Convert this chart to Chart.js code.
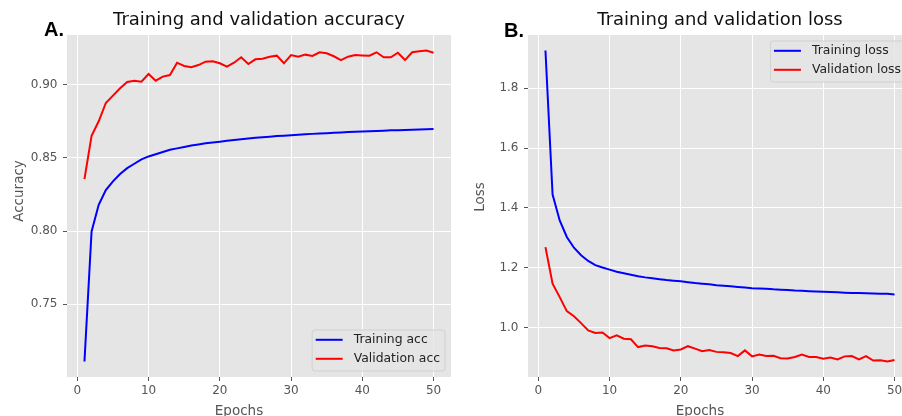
<!DOCTYPE html>
<html>
<head>
<meta charset="utf-8">
<script src="https://cdn.jsdelivr.net/npm/chart.js@4.4.0/dist/chart.umd.min.js"></script>
<style>
    html, body { margin: 0; padding: 0; background: #fff; width: 902px; height: 416px; overflow: hidden; }
    canvas { position: absolute; top: 0; }
    #accChart { left: 0; }
    #lossChart { left: 460px; }
    .tag { position: absolute; font: bold 20px 'Liberation Sans', Arial, sans-serif; line-height: 20px; color: #000; }
</style>
</head>
<body>
<canvas id="accChart" width="470" height="430"></canvas>
<canvas id="lossChart" width="470" height="430"></canvas>
<div class="tag" style="left:44px; top:19px;">A.</div>
<div class="tag" style="left:504px; top:19.5px;">B.</div>
<script>
const epochs = [1, 2, 3, 4, 5, 6, 7, 8, 9, 10, 11, 12, 13, 14, 15, 16, 17, 18, 19, 20,
    21, 22, 23, 24, 25, 26, 27, 28, 29, 30, 31, 32, 33, 34, 35, 36, 37, 38, 39, 40,
    41, 42, 43, 44, 45, 46, 47, 48, 49, 50];

const trainAcc = [0.7110, 0.7998, 0.8180, 0.8280, 0.8340, 0.8390, 0.8430, 0.8460, 0.8490, 0.8510,
    0.8525, 0.8540, 0.8555, 0.8565, 0.8575, 0.8585, 0.8592, 0.8600, 0.8605, 0.8611,
    0.8617, 0.8622, 0.8627, 0.8632, 0.8637, 0.8641, 0.8645, 0.8649, 0.8652, 0.8655,
    0.8658, 0.8661, 0.8664, 0.8667, 0.8669, 0.8672, 0.8674, 0.8676, 0.8678, 0.8680,
    0.8682, 0.8684, 0.8686, 0.8688, 0.8689, 0.8691, 0.8693, 0.8694, 0.8696, 0.8698];
const valAcc = [0.8355, 0.8650, 0.8750, 0.8875, 0.8925, 0.8975, 0.9018, 0.9027, 0.9020, 0.9073,
    0.9027, 0.9055, 0.9066, 0.9150, 0.9128, 0.9119, 0.9134, 0.9157, 0.9160, 0.9146,
    0.9123, 0.9150, 0.9187, 0.9141, 0.9173, 0.9177, 0.9191, 0.9198, 0.9146, 0.9202,
    0.9191, 0.9205, 0.9196, 0.9221, 0.9214, 0.9194, 0.9168, 0.9191, 0.9202, 0.9200,
    0.9198, 0.9221, 0.9187, 0.9187, 0.9218, 0.9168, 0.9221, 0.9228, 0.9233, 0.9218];

const trainLoss = [1.926, 1.445, 1.358, 1.303, 1.267, 1.242, 1.223, 1.209, 1.201, 1.194,
    1.187, 1.182, 1.177, 1.172, 1.168, 1.165, 1.162, 1.159, 1.157, 1.155,
    1.152, 1.149, 1.147, 1.145, 1.142, 1.140, 1.138, 1.136, 1.134, 1.132,
    1.131, 1.130, 1.128, 1.127, 1.126, 1.124, 1.123, 1.122, 1.121, 1.120,
    1.119, 1.118, 1.117, 1.116, 1.116, 1.115, 1.114, 1.113, 1.113, 1.111];
const valLoss = [1.269, 1.147, 1.102, 1.055, 1.038, 1.015, 0.991, 0.982, 0.984, 0.965,
    0.974, 0.963, 0.961, 0.935, 0.940, 0.938, 0.932, 0.931, 0.924, 0.927,
    0.938, 0.930, 0.921, 0.925, 0.919, 0.918, 0.915, 0.905, 0.924, 0.904,
    0.910, 0.905, 0.906, 0.898, 0.897, 0.902, 0.910, 0.902, 0.902, 0.896,
    0.900, 0.894, 0.904, 0.905, 0.894, 0.905, 0.890, 0.891, 0.887, 0.892];

const epochTicks = [0, 10, 20, 30, 40, 50];
const accTicks = [0.75, 0.80, 0.85, 0.90];
const accTickLabels = ['0.75', '0.80', '0.85', '0.90'];
const lossTicks = [1.0, 1.2, 1.4, 1.6, 1.8];
const lossTickLabels = ['1.0', '1.2', '1.4', '1.6', '1.8'];

const FONT = "'DejaVu Sans', sans-serif";

// matplotlib style autoscale: 5% margin on each side
function paddedRange(...lists) {
    const all = [].concat(...lists);
    const lo = Math.min(...all), hi = Math.max(...all);
    const m = (hi - lo) * 0.05;
    return [lo - m, hi + m];
}

function toPoints(series) {
    return epochs.map((e, i) => ({ x: e, y: series[i] }));
}

const plotBackground = {
    id: 'plotBackground',
    beforeDraw(chart) {
        const { ctx, chartArea: a } = chart;
        ctx.save();
        ctx.fillStyle = '#E5E5E5';
        ctx.fillRect(a.left, a.top, a.right - a.left, a.bottom - a.top);
        ctx.restore();
    }
};

const axisNames = {
    id: 'axisNames',
    afterDraw(chart, args, opts) {
        const { ctx, chartArea: a } = chart;
        ctx.save();
        ctx.fillStyle = '#555';
        ctx.font = '13.5px ' + FONT;
        ctx.textAlign = 'center';
        ctx.textBaseline = 'alphabetic';
        ctx.fillText(opts.x, (a.left + a.right) / 2 + opts.xShift, a.bottom + 38);
        ctx.translate(a.left - 44.5, (a.top + a.bottom) / 2 + opts.yShift);
        ctx.rotate(-Math.PI / 2);
        ctx.fillText(opts.y, 0, 0);
        ctx.restore();
    }
};

const boxLegend = {
    id: 'boxLegend',
    afterDraw(chart, args, opts) {
        const { ctx, chartArea: a } = chart;
        const sets = chart.data.datasets;
        ctx.save();
        ctx.font = '12.4px ' + FONT;
        const textW = Math.max(...sets.map(d => ctx.measureText(d.label).width));
        const w = 41.5 + textW + 5;
        const h = 41;
        const x = a.right - 6 - w;
        const y = opts.place === 'top' ? a.top + 6 : a.bottom - 6 - h;
        ctx.beginPath();
        if (ctx.roundRect) ctx.roundRect(x, y, w, h, 3);
        else ctx.rect(x, y, w, h);
        ctx.fillStyle = 'rgba(229,229,229,0.8)';
        ctx.fill();
        ctx.strokeStyle = 'rgba(204,204,204,0.8)';
        ctx.lineWidth = 1;
        ctx.stroke();
        sets.forEach((d, i) => {
            const ly = y + 9.8 + i * 19;
            ctx.strokeStyle = d.borderColor;
            ctx.lineWidth = 2;
            ctx.beginPath();
            ctx.moveTo(x + 3.5, ly);
            ctx.lineTo(x + 30.5, ly);
            ctx.stroke();
            ctx.fillStyle = '#222';
            ctx.textBaseline = 'middle';
            ctx.fillText(d.label, x + 41.5, ly);
        });
        ctx.restore();
    }
};

function makeChart(id, cfg) {
    const [yMin, yMax] = paddedRange(...cfg.series.map(s => s.values));
    const [xMin, xMax] = paddedRange(epochs);
    const tickFont = { family: FONT, size: 12 };
    return new Chart(document.getElementById(id), {
        type: 'line',
        data: {
            datasets: cfg.series.map(s => ({
                label: s.label,
                data: toPoints(s.values),
                borderColor: s.color,
                backgroundColor: s.color,
                borderWidth: 2,
                pointRadius: 0,
                tension: 0,
                fill: false
            }))
        },
        options: {
            responsive: false,
            animation: false,
            layout: { padding: { left: 0, right: cfg.padRight, top: 0, bottom: 0 } },
            scales: {
                x: {
                    type: 'linear',
                    min: xMin,
                    max: xMax,
                    afterBuildTicks: s => { s.ticks = epochTicks.map(v => ({ value: v })); },
                    afterFit: s => { s.height = 53; },
                    grid: { color: '#fff', lineWidth: 1, tickLength: 4, tickColor: '#555' },
                    border: { display: false },
                    ticks: { color: '#555', font: tickFont, padding: 3, autoSkip: false, maxRotation: 0,
                        callback: v => String(v) }
                },
                y: {
                    type: 'linear',
                    min: yMin,
                    max: yMax,
                    afterBuildTicks: s => { s.ticks = cfg.ticks.map(v => ({ value: v })); },
                    afterFit: s => { s.width = cfg.yWidth; },
                    grid: { color: '#fff', lineWidth: 1, tickLength: 4, tickColor: '#555' },
                    border: { display: false },
                    ticks: { color: '#555', font: tickFont, padding: 5.5, autoSkip: false,
                        callback: (v, i) => cfg.tickLabels[i] }
                }
            },
            plugins: {
                legend: { display: false },
                tooltip: { enabled: false },
                title: {
                    display: true,
                    text: cfg.title,
                    fullSize: false,
                    color: '#111',
                    font: { family: FONT, size: 18, weight: 'normal' },
                    padding: { top: 10, bottom: 3.4 }
                },
                axisNames: { x: 'Epochs', y: cfg.yName, xShift: -20, yShift: cfg.yShift },
                boxLegend: { place: cfg.legendPlace }
            }
        },
        plugins: [plotBackground, axisNames, boxLegend]
    });
}

makeChart('accChart', {
    title: 'Training and validation accuracy',
    yName: 'Accuracy',
    yShift: -15,
    ticks: accTicks,
    tickLabels: accTickLabels,
    yWidth: 67,
    padRight: 19,
    legendPlace: 'bottom',
    series: [
        { label: 'Training acc', values: trainAcc, color: 'blue' },
        { label: 'Validation acc', values: valAcc, color: 'red' }
    ]
});

makeChart('lossChart', {
    title: 'Training and validation loss',
    yName: 'Loss',
    yShift: -9,
    ticks: lossTicks,
    tickLabels: lossTickLabels,
    yWidth: 68,
    padRight: 18,
    legendPlace: 'top',
    series: [
        { label: 'Training loss', values: trainLoss, color: 'blue' },
        { label: 'Validation loss', values: valLoss, color: 'red' }
    ]
});
</script>
</body>
</html>
